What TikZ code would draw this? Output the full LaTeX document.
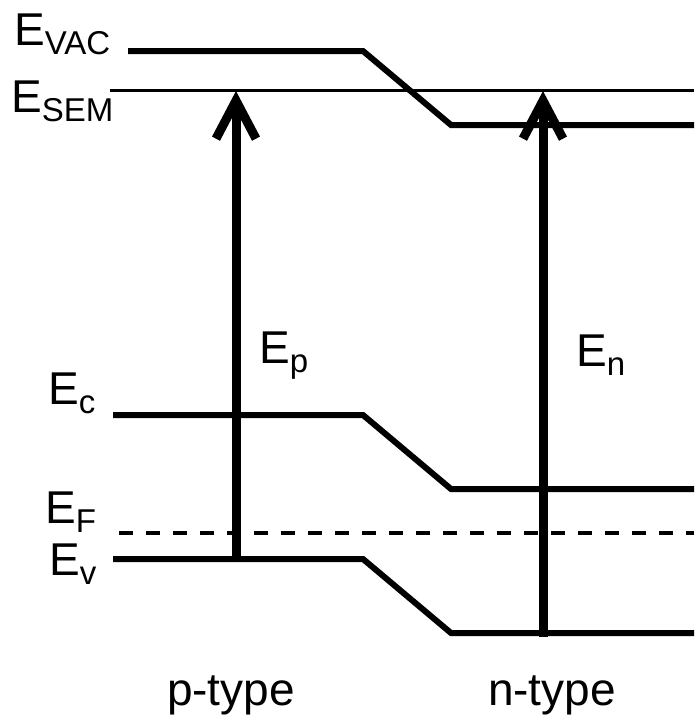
\documentclass[tikz,border=0pt]{standalone}
\usepackage{fontspec}
\setmainfont{Liberation Sans}
\usepackage{tikz}
\usetikzlibrary{arrows.meta,positioning}
\newcommand{\elev}[1]{E\raisebox{-9pt}{\fontsize{33}{33}\selectfont #1}}

\begin{document}
\begin{tikzpicture}[x=1pt,y=-1pt,
  level/.style={line width=6pt},
  lbl/.style={anchor=base west,inner sep=0pt,font=\fontsize{46}{50}\selectfont},
  gap/.style={line width=9pt,-{Straight Barb[length=38pt,width=40pt]}}]
\useasboundingbox (0,0) rectangle (694,715);
\node[lbl] (vac) at (14,45) {\elev{VAC}};
\node[lbl] (sem) at (11,112) {\elev{SEM}};
\node[lbl] (ec) at (48,404) {\elev{c}};
\node[lbl] (ef) at (45,523) {\elev{F}};
\node[lbl] (ev) at (49,575) {\elev{v}};
\node[lbl] (ep) at (259,363) {\elev{p}};
\node[lbl] (en) at (576,366) {\elev{n}};
\node[lbl,anchor=base] (ptype) at (231,705) {p-type};
\node[lbl,anchor=base] (ntype) at (552,705) {n-type};
\draw[level] (128,51) -- (363,51) -- (451,125) -- (694,125);
\draw[line width=3pt] (110,90) -- (694,90);
\draw[level] (113,415) -- (363,415) -- (451,489) -- (694,489);
\draw[line width=4.5pt,dash pattern=on 14pt off 13pt] (119,533) -- (694,533);
\draw[level] (113,559) -- (363,559) -- (451,633) -- (694,633);
\coordinate (pbot) at (236,562);
\coordinate (ptop) at (236,91);
\coordinate (nbot) at (543,637);
\coordinate (ntop) at (543,91);
\draw[gap] (pbot) -- (ptop);
\draw[gap] (nbot) -- (ntop);
\end{tikzpicture}
\end{document}
